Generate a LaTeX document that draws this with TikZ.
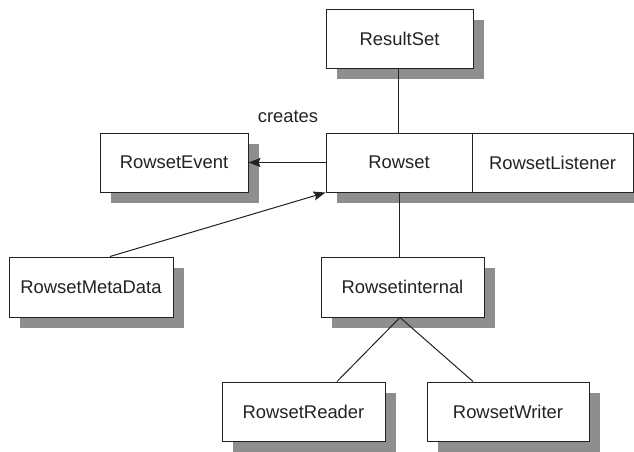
\documentclass[tikz,border=0pt]{standalone}
\usepackage{fontspec}
\setmainfont{Liberation Sans}
\usetikzlibrary{shadows,arrows.meta}
\definecolor{shadowgray}{HTML}{8E8E8E}
\definecolor{inkcol}{HTML}{222222}
\tikzset{
  box/.style={draw=inkcol, line width=1pt, fill=white, inner sep=0pt,
    minimum height=59pt, font=\fontsize{18.4pt}{20pt}\selectfont, text=inkcol,
    general shadow={fill=shadowgray, shadow xshift=11pt, shadow yshift=-11pt}},
  plainbox/.style={draw=inkcol, line width=1pt, fill=white, inner sep=0pt,
    minimum height=59pt, font=\fontsize{18.4pt}{20pt}\selectfont, text=inkcol},
  link/.style={draw=inkcol, line width=1pt},
  arrowlink/.style={link, -{Stealth[length=12pt,width=9pt,inset=2pt]}},
  lbl/.style={font=\fontsize{18.4pt}{20pt}\selectfont, text=inkcol, inner sep=0pt}
}
\begin{document}
\begin{tikzpicture}[x=1pt,y=-1pt]
\useasboundingbox (0,0) rectangle (634,451);
\fill[white] (0,0) rectangle (634,451);
\begin{scope}
\clip (0,0) rectangle (634,451);
% shadow of the Rowset / RowsetListener pair
\fill[shadowgray] (337,144) rectangle (644,203);
\end{scope}
\node[box, minimum width=147pt] (ResultSet) at (399.5,38.5) {ResultSet};
\node[plainbox, minimum width=146pt] (Rowset) at (399,162.5) {Rowset};
\node[plainbox, minimum width=161pt] (RowsetListener) at (552.5,162.5) {RowsetListener};
\node[box, minimum width=148pt] (RowsetEvent) at (174,162.5) {RowsetEvent};
\node[box, minimum width=164pt, minimum height=60pt] (RowsetMetaData) at (91,287) {RowsetMetaData};
\node[box, minimum width=163pt, minimum height=60pt] (Rowsetinternal) at (402.5,287) {Rowsetinternal};
\node[box, minimum width=163pt] (RowsetReader) at (303.5,411.5) {RowsetReader};
\node[box, minimum width=162pt] (RowsetWriter) at (508,411.5) {RowsetWriter};
\node[lbl] (creates) at (288,117) {creates};
\coordinate (junction) at ([xshift=-2.5pt]Rowsetinternal.south);
\coordinate (rsfoot) at ([xshift=-1.5pt]ResultSet.south);
\draw[link] (rsfoot) -- (Rowset.north -| rsfoot);
\draw[link] (Rowset.south) -- (Rowsetinternal.north -| Rowset.south);
\draw[arrowlink] (Rowset.west) -- (RowsetEvent.east);
\draw[arrowlink] ([xshift=19pt]RowsetMetaData.north) -- (Rowset.south west);
\draw[link] (junction) -- ([xshift=33.5pt]RowsetReader.north);
\draw[link] (junction) -- ([xshift=-35pt]RowsetWriter.north);
\end{tikzpicture}
\end{document}
